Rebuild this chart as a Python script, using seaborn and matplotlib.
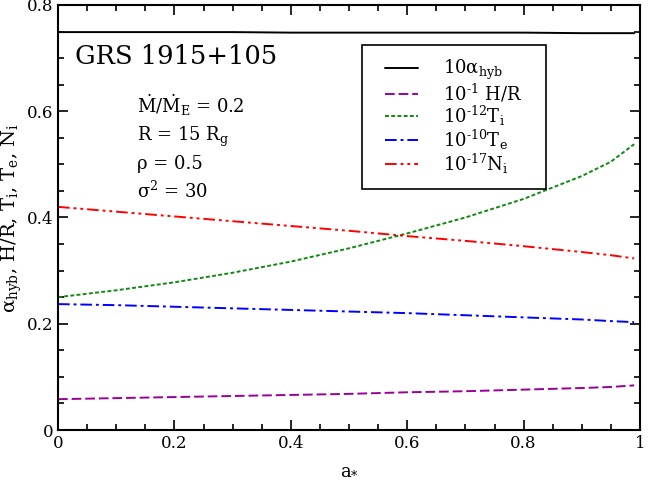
import matplotlib
matplotlib.use("Agg")
import matplotlib.pyplot as plt
import seaborn as sns
import pandas as pd
from matplotlib.ticker import MultipleLocator, FixedLocator, FixedFormatter
from matplotlib.patches import Rectangle
from matplotlib.transforms import IdentityTransform

# ---- data ----
a_star = [0.0, 0.1, 0.2, 0.3, 0.4, 0.5, 0.6, 0.7, 0.8, 0.9, 0.95, 0.99]
alpha_hyb = [0.749, 0.749, 0.749, 0.749, 0.748, 0.748, 0.748, 0.748, 0.748, 0.747, 0.747, 0.747]
h_over_r = [0.058, 0.060, 0.062, 0.064, 0.066, 0.068, 0.071, 0.073, 0.076, 0.079, 0.081, 0.084]
t_ion = [0.250, 0.263, 0.278, 0.296, 0.317, 0.342, 0.370, 0.400, 0.435, 0.478, 0.505, 0.538]
t_ele = [0.237, 0.235, 0.232, 0.229, 0.226, 0.223, 0.220, 0.216, 0.212, 0.208, 0.205, 0.203]
n_ion = [0.420, 0.411, 0.402, 0.393, 0.384, 0.375, 0.365, 0.356, 0.346, 0.335, 0.329, 0.323]

labels = [r"10α$_{\rm hyb}$", r"10$^{\rm ‐1}$ H/R", r"10$^{\rm ‐12}$T$_{\rm i}$",
          r"10$^{\rm ‐10}$T$_{\rm e}$", r"10$^{\rm ‐17}$N$_{\rm i}$"]
xticks = [0, 0.2, 0.4, 0.6, 0.8, 1.0]
xticklabels = ["0", "0.2", "0.4", "0.6", "0.8", "1"]
yticks = [0, 0.2, 0.4, 0.6, 0.8]
yticklabels = ["0", "0.2", "0.4", "0.6", "0.8"]

sns.set_style("ticks")
plt.rcParams["font.family"] = ["DejaVu Serif"]
plt.rcParams["mathtext.fontset"] = "dejavuserif"
plt.rcParams["text.color"] = "black"
plt.rcParams["axes.labelcolor"] = "black"
plt.rcParams["xtick.color"] = "black"
plt.rcParams["ytick.color"] = "black"
plt.rcParams["axes.edgecolor"] = "black"

fig = plt.figure(figsize=(6.49, 4.86), dpi=100)
ax = fig.add_axes([58/649, 1-430/486, 582/649, 425/486])

series = [alpha_hyb, h_over_r, t_ion, t_ele, n_ion]
colors = ["black", "#990099", "#118811", "#0000ff", "#ff0000"]
dashes = [None, (5, 2), (2, 1.2), (6, 2, 1.5, 2), (6, 2, 1.5, 2, 1.5, 2)]

for vals, lab, c, d in zip(series, labels, colors, dashes):
    df = pd.DataFrame({"a": a_star, "v": vals})
    sns.lineplot(data=df, x="a", y="v", ax=ax, color=c, lw=1.4, label=lab)
    if d is not None:
        ax.lines[-1].set_dashes(d)

ax.set_xlim(0, 1)
ax.set_ylim(0, 0.8)
ax.set_autoscale_on(False)
ax.xaxis.set_major_locator(FixedLocator(xticks))
ax.xaxis.set_major_formatter(FixedFormatter(xticklabels))
ax.yaxis.set_major_locator(FixedLocator(yticks))
ax.yaxis.set_major_formatter(FixedFormatter(yticklabels))
ax.xaxis.set_minor_locator(MultipleLocator(0.05))
ax.yaxis.set_minor_locator(MultipleLocator(0.05))
ax.tick_params(which="both", direction="in", top=True, right=True, labelsize=12, width=1.2)
ax.tick_params(which="major", length=7)
ax.tick_params(which="minor", length=4)
for s in ax.spines.values():
    s.set_linewidth(1.5)

ax.set_xlabel(r"a$_{*}$", fontsize=13, labelpad=6)
ax.set_ylabel(r"α$_{\rm hyb}$, H/R, T$_{\rm i}$, T$_{\rm e}$, N$_{\rm i}$", fontsize=14, labelpad=2)

ax.text(0.03, 0.862, "GRS 1915+105", transform=ax.transAxes, fontsize=18.5, va="baseline")
info = [r"$\dot{\rm M}/\dot{\rm M}_{\rm E}$ = 0.2", r"R = 15 R$_{\rm g}$",
        r"ρ = 0.5", r"σ$^{2}$ = 30"]
for i, t in enumerate(info):
    ax.text(0.135, 0.745 - i * 0.066, t, transform=ax.transAxes, fontsize=13, va="baseline")

leg = ax.legend(loc="upper left", bbox_to_anchor=(0.5395, 0.906), fontsize=13,
                frameon=True, fancybox=False, framealpha=1, edgecolor="black",
                handlelength=1.83, handletextpad=1.4, labelspacing=-0.02, borderpad=0.72,
                borderaxespad=0)
leg.get_frame().set_visible(False)

# draw a frame around the legend, wider horizontally than vertically
fig.canvas.draw()
bb = leg.get_window_extent()
pad_x = 10
frame = Rectangle((bb.x0 - pad_x, bb.y0), bb.width + 2 * pad_x, bb.height,
                  transform=IdentityTransform(), facecolor="white", edgecolor="black",
                  linewidth=1.2, zorder=4.9, clip_on=False)
ax.add_patch(frame)

fig.savefig("out.png", dpi=100)
